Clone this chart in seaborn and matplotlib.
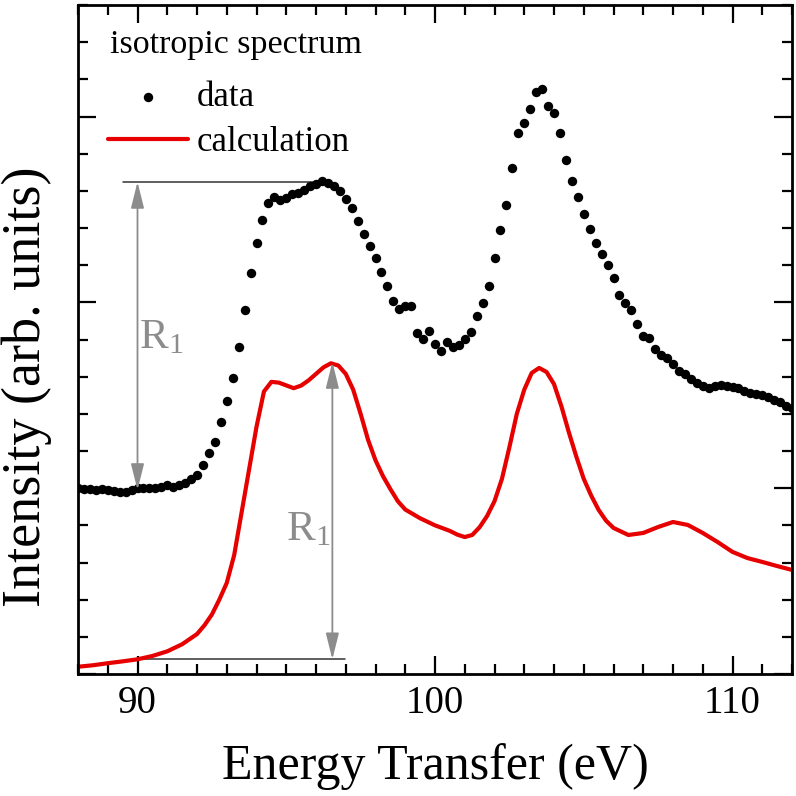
import matplotlib
matplotlib.use("Agg")
import matplotlib.pyplot as plt
from matplotlib.ticker import MultipleLocator
import seaborn as sns

# measured spectrum (energy step 0.2 eV)
data_energy = [
    88.0, 88.2, 88.4, 88.6, 88.8, 89.0, 89.2, 89.4, 89.6, 89.8,
    90.0, 90.2, 90.4, 90.6, 90.8, 91.0, 91.2, 91.4, 91.6, 91.8,
    92.0, 92.2, 92.4, 92.6, 92.8, 93.0, 93.2, 93.4, 93.6, 93.8,
    94.0, 94.2, 94.4, 94.6, 94.8, 95.0, 95.2, 95.4, 95.6, 95.8,
    96.0, 96.2, 96.4, 96.6, 96.8, 97.0, 97.2, 97.4, 97.6, 97.8,
    98.0, 98.2, 98.4, 98.6, 98.8, 99.0, 99.2, 99.4, 99.6, 99.8,
    100.0, 100.2, 100.4, 100.6, 100.8, 101.0, 101.2, 101.4, 101.6, 101.8,
    102.0, 102.2, 102.4, 102.6, 102.8, 103.0, 103.2, 103.4, 103.6, 103.8,
    104.0, 104.2, 104.4, 104.6, 104.8, 105.0, 105.2, 105.4, 105.6, 105.8,
    106.0, 106.2, 106.4, 106.6, 106.8, 107.0, 107.2, 107.4, 107.6, 107.8,
    108.0, 108.2, 108.4, 108.6, 108.8, 109.0, 109.2, 109.4, 109.6, 109.8,
    110.0, 110.2, 110.4, 110.6, 110.8, 111.0, 111.2, 111.4, 111.6, 111.8,
    112.0,
]
data_intensity = [
    1.001, 0.996, 0.996, 0.990, 0.996, 0.990, 0.985, 0.980, 0.980, 0.990,
    1.001, 1.001, 1.001, 1.001, 1.006, 1.017, 1.006, 1.017, 1.028, 1.050,
    1.071, 1.125, 1.189, 1.249, 1.356, 1.469, 1.593, 1.760, 1.959, 2.158,
    2.320, 2.443, 2.535, 2.567, 2.551, 2.562, 2.583, 2.589, 2.605, 2.626,
    2.637, 2.653, 2.643, 2.626, 2.600, 2.557, 2.508, 2.438, 2.368, 2.304,
    2.239, 2.164, 2.088, 2.009, 1.963, 1.981, 1.981, 1.837, 1.801, 1.848,
    1.776, 1.738, 1.788, 1.762, 1.771, 1.801, 1.842, 1.927, 1.998, 2.090,
    2.239, 2.390, 2.526, 2.722, 2.910, 2.967, 3.041, 3.131, 3.147, 3.057,
    3.021, 2.910, 2.766, 2.653, 2.569, 2.474, 2.393, 2.321, 2.259, 2.201,
    2.133, 2.040, 1.995, 1.959, 1.885, 1.821, 1.806, 1.749, 1.717, 1.698,
    1.668, 1.633, 1.615, 1.590, 1.566, 1.550, 1.537, 1.550, 1.557, 1.550,
    1.545, 1.537, 1.525, 1.512, 1.508, 1.502, 1.489, 1.477, 1.465, 1.442,
    1.432,
]

# calculated spectrum
calc_energy = [
    88.0, 88.5, 89.0, 89.5, 90.0, 90.5, 91.0, 91.5, 92.0, 92.25,
    92.5, 92.75, 93.0, 93.25, 93.5, 93.75, 94.0, 94.25, 94.5, 94.75,
    95.0, 95.25, 95.5, 95.75, 96.0, 96.25, 96.5, 96.75, 97.0, 97.25,
    97.5, 97.75, 98.0, 98.25, 98.5, 98.75, 99.0, 99.5, 100.0, 100.5,
    100.75, 101.0, 101.25, 101.5, 101.75, 102.0, 102.25, 102.5, 102.75, 103.0,
    103.25, 103.5, 103.75, 104.0, 104.25, 104.5, 104.75, 105.0, 105.25, 105.5,
    105.75, 106.0, 106.5, 107.0, 107.5, 108.0, 108.5, 109.0, 109.5, 110.0,
    110.5, 111.0, 111.5, 112.0,
]
calc_intensity = [
    0.039, 0.047, 0.058, 0.068, 0.079, 0.097, 0.122, 0.160, 0.215, 0.262,
    0.320, 0.400, 0.490, 0.640, 0.870, 1.100, 1.330, 1.520, 1.572, 1.568,
    1.553, 1.538, 1.552, 1.580, 1.615, 1.650, 1.672, 1.660, 1.615, 1.530,
    1.400, 1.260, 1.150, 1.065, 0.995, 0.930, 0.885, 0.838, 0.800, 0.770,
    0.750, 0.737, 0.748, 0.790, 0.850, 0.930, 1.050, 1.220, 1.400, 1.530,
    1.620, 1.647, 1.625, 1.560, 1.440, 1.300, 1.170, 1.050, 0.960, 0.883,
    0.825, 0.786, 0.748, 0.759, 0.791, 0.818, 0.802, 0.759, 0.710, 0.657,
    0.624, 0.603, 0.581, 0.560,
]

# R1 markers: (x, y_low, y_high, line_x0, line_x1, line_y, label_x, label_y)
r1_data = [90.0, 0.99, 2.648, 89.5, 95.9, 2.648, 90.78, 1.81]
r1_calc = [96.55, 0.079, 1.679, 90.0, 96.97, 0.079, 95.72, 0.775]

sns.set_theme(style="ticks")
plt.rcParams["font.family"] = ["Liberation Serif", "DejaVu Serif"]
plt.rcParams["mathtext.fontset"] = "custom"
plt.rcParams["mathtext.rm"] = "Liberation Serif"
plt.rcParams["mathtext.it"] = "Liberation Serif"
plt.rcParams["text.color"] = "black"
plt.rcParams["axes.labelcolor"] = "black"
plt.rcParams["xtick.color"] = "black"
plt.rcParams["ytick.color"] = "black"

fig = plt.figure(figsize=(7.96, 7.96), dpi=100)
ax = fig.add_axes([78 / 796, 122 / 796, 714 / 796, 669 / 796])

sns.scatterplot(x=data_energy, y=data_intensity, color="black", s=46,
                linewidth=0, label="data", ax=ax, zorder=3)
sns.lineplot(x=calc_energy, y=calc_intensity, color="#e60000", lw=3,
             label="calculation", ax=ax, zorder=2)

grey = "#8c8c8c"
for x, ylo, yhi, lx0, lx1, ly, tx, ty in (r1_data, r1_calc):
    ax.plot([lx0, lx1], [ly, ly], color="#333333", lw=1.1, zorder=1)
    ax.annotate("", xy=(x, yhi), xytext=(x, ylo),
                arrowprops=dict(arrowstyle="<|-|>,head_length=1.6,head_width=0.4",
                                color=grey, lw=1.3, shrinkA=0, shrinkB=0,
                                mutation_scale=10))
    ax.text(tx, ty, r"R$_{1}$", color=grey, fontsize=31,
            ha="center", va="center")

ax.set_xlim(88, 112)
ax.set_ylim(0, 3.6)
ax.set_xticks([90, 100, 110])
ax.xaxis.set_minor_locator(MultipleLocator(1))
ax.yaxis.set_major_locator(MultipleLocator(1))
ax.yaxis.set_minor_locator(MultipleLocator(0.2))
ax.set_yticklabels([])
ax.tick_params(which="both", direction="in", top=True, right=True,
               width=1.6, color="black")
ax.tick_params(which="major", length=13, labelsize=28, pad=8)
ax.tick_params(which="minor", length=7)
for sp in ax.spines.values():
    sp.set_visible(True)
    sp.set_linewidth(2.0)
    sp.set_color("black")

ax.set_xlabel("Energy Transfer (eV)", fontsize=36, labelpad=15)
ax.set_ylabel("Intensity (arb. units)", fontsize=39)
ax.yaxis.set_label_coords(-0.036, 0.43)

leg = ax.legend(loc="upper left", bbox_to_anchor=(0.042, 0.886),
                frameon=False, fontsize=25, handlelength=2.3,
                handletextpad=0.25, labelspacing=0.35, borderaxespad=0,
                borderpad=0, markerscale=1.0)
ax.text(0.045, 0.940, "isotropic spectrum", transform=ax.transAxes,
        fontsize=24.5, ha="left", va="center")

fig.savefig("out.png", dpi=100)
